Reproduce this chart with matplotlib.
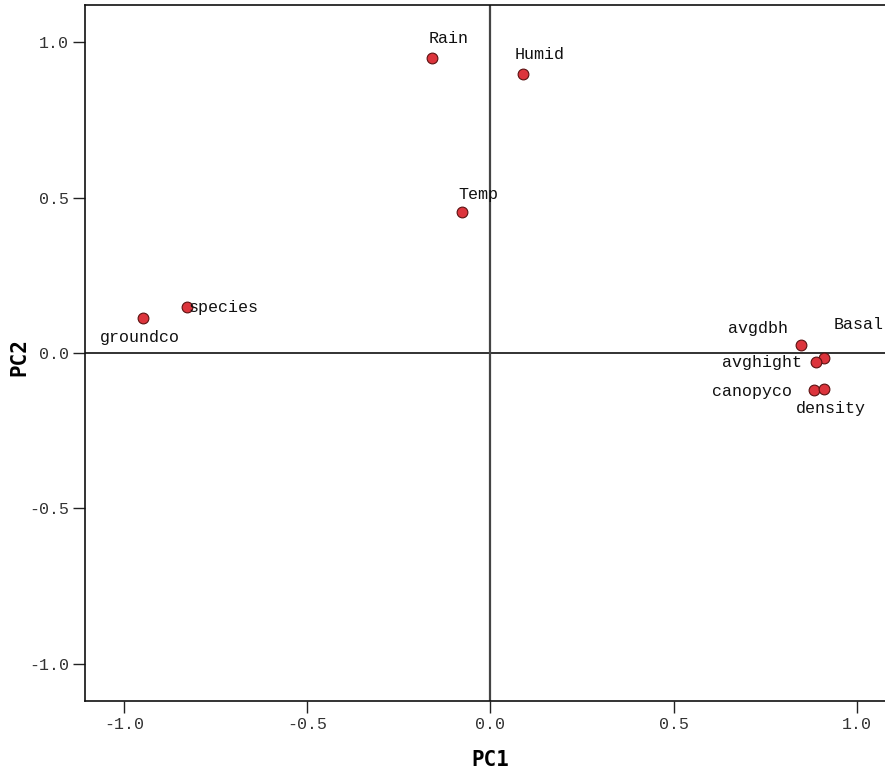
import matplotlib
matplotlib.use('Agg')
import matplotlib.pyplot as plt

# PCA loadings (component plot)
variables = ['Rain', 'Humid', 'Temp', 'species', 'groundco',
             'avgdbh', 'Basal', 'avghight', 'canopyco', 'density']
pc1 = [-0.159, 0.090, -0.079, -0.829, -0.949, 0.848, 0.911, 0.889, 0.884, 0.911]
pc2 = [0.949, 0.897, 0.453, 0.148, 0.113, 0.026, -0.016, -0.029, -0.119, -0.116]

x_ticks = [-1.0, -0.5, 0.0, 0.5, 1.0]
y_ticks = [-1.0, -0.5, 0.0, 0.5, 1.0]

# label offsets in points (dx, dy, ha)
label_pos = {
    'Rain': (12, 14, 'center'),
    'Humid': (12, 14, 'center'),
    'Temp': (12, 13, 'center'),
    'species': (1, 0, 'left'),
    'groundco': (-2, -14, 'center'),
    'avgdbh': (-31, 12, 'center'),
    'Basal': (25, 24, 'center'),
    'avghight': (-10, 0, 'right'),
    'canopyco': (-16, -1, 'right'),
    'density': (5, -14, 'center'),
}

mono = 'Liberation Mono'
mono_bold = 'DejaVu Sans Mono'

fig = plt.figure(figsize=(8.85, 7.71), dpi=100)
ax = fig.add_axes([85/885, 70/771, 800/885 + 0.002, 696/771])

ax.axhline(0, color='#222222', lw=1.3, zorder=1)
ax.axvline(0, color='#444444', lw=1.6, zorder=1)

ax.scatter(pc1, pc2, s=60, color='#dc343c', edgecolor='#5a1010', linewidth=0.8, zorder=3)

for name, x, y in zip(variables, pc1, pc2):
    dx, dy, ha = label_pos[name]
    ax.annotate(name, (x, y), xytext=(dx, dy), textcoords='offset points',
                ha=ha, va='center', fontsize=12, family=mono, color='#111111', zorder=4)

ax.set_xlim(-1.107, 1.082)
ax.set_ylim(-1.12, 1.12)
ax.set_xticks(x_ticks)
ax.set_yticks(y_ticks)
ax.set_xticklabels(['%.1f' % v for v in x_ticks], family=mono, fontsize=12, color='#333333')
ax.set_yticklabels(['%.1f' % v for v in y_ticks], family=mono, fontsize=12, color='#333333')
ax.tick_params(direction='out', length=8.5, width=1, pad=3, color='#222222')

ax.set_xlabel('PC1', family=mono_bold, fontsize=15, fontweight='bold', va='center')
ax.set_ylabel('PC2', family=mono_bold, fontsize=15, fontweight='bold', va='center')
ax.xaxis.set_label_coords((489 - 85) / 800, -(760 - 701) / 696)
ax.yaxis.set_label_coords(-(85 - 20) / 800, (701 - 357) / 696)

ax.spines['right'].set_visible(False)
for s in ['left', 'top', 'bottom']:
    ax.spines[s].set_linewidth(1.2)
    ax.spines[s].set_color('#111111')

fig.savefig('out.png', dpi=100)
